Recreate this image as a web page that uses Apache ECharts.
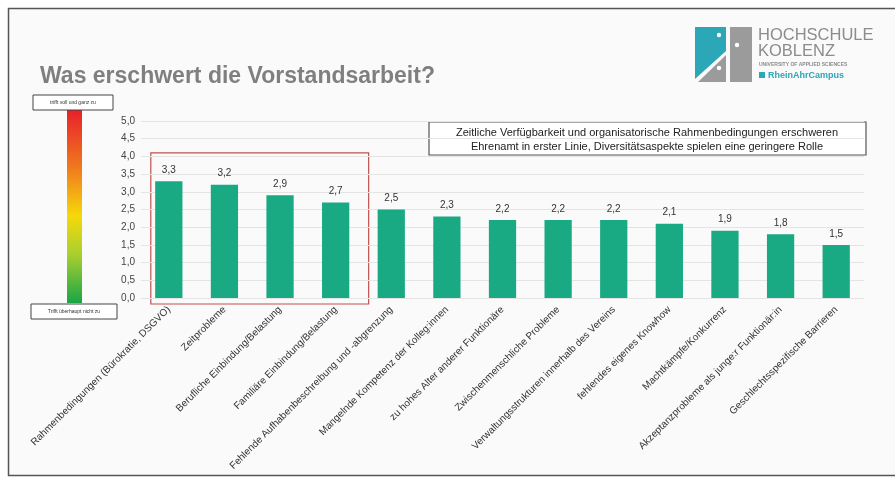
<!DOCTYPE html>
<html><head><meta charset="utf-8">
<script src="https://cdn.jsdelivr.net/npm/echarts@6/dist/echarts.min.js"></script>
<style>html,body{margin:0;padding:0;background:#fff}#c{width:895px;height:478px}</style>
</head><body><div id="c"></div>
<script>
const categories = [
  "Rahmenbedingungen (Bürokratie, DSGVO)",
  "Zeitprobleme",
  "Berufliche Einbindung/Belastung",
  "Familiäre Einbindung/Belastung",
  "Fehlende Aufhabenbeschreibung und -abgrenzung",
  "Mangelnde Kompetenz der Kolleg:innen",
  "zu hohes Alter anderer Funktionäre",
  "Zwischenmenschliche Probleme",
  "Verwaltungsstrukturen innerhalb des Vereins",
  "fehlendes eigenes Knowhow",
  "Machtkämpfe/Konkurrenz",
  "Akzeptanzprobleme als junge:r Funktionär:in",
  "Geschlechtsspezifische Barrieren"
];
const values = [3.3, 3.2, 2.9, 2.7, 2.5, 2.3, 2.2, 2.2, 2.2, 2.1, 1.9, 1.8, 1.5];
const yTicks = [0, 0.5, 1, 1.5, 2, 2.5, 3, 3.5, 4, 4.5, 5];
const titleText = "Was erschwert die Vorstandsarbeit?";
const noteLines = ["Zeitliche Verfügbarkeit und organisatorische Rahmenbedingungen erschweren",
                   "Ehrenamt in erster Linie, Diversitätsaspekte spielen eine geringere Rolle"];
const scaleTop = "trifft voll und ganz zu";
const scaleBottom = "Trifft überhaupt nicht zu";

const FONT = "Liberation Sans, Arial, sans-serif";
const chart = echarts.init(document.getElementById('c'));
const fmt = v => v.toFixed(1).replace('.', ',');

const baseGraphic = [
  {type:'rect', z:-10, shape:{x:8.5,y:8.5,width:920,height:467}, style:{fill:'#fafafa', stroke:'#555', lineWidth:1.5}},
  {type:'text', left:40, top:65, style:{text:titleText, font:'bold 23px '+FONT, fill:'#7f7f7f'}},
  // logo
  {type:'polygon', shape:{points:[[695,27],[726,27],[726,51],[695,79]]}, style:{fill:'#2ba7b8'}},
  {type:'polygon', shape:{points:[[726,55],[726,82],[698,82]]}, style:{fill:'#9b9b9b'}},
  {type:'rect', shape:{x:730,y:27,width:22,height:55}, style:{fill:'#9b9b9b'}},
  {type:'circle', shape:{cx:719,cy:35,r:2.2}, style:{fill:'#fff'}},
  {type:'circle', shape:{cx:719,cy:68,r:2.2}, style:{fill:'#fff'}},
  {type:'circle', shape:{cx:737,cy:45,r:2.2}, style:{fill:'#fff'}},
  {type:'text', left:758, top:27, style:{text:'HOCHSCHULE', font:'16.5px '+FONT, fill:'#8c8c8c'}},
  {type:'text', left:758, top:43, style:{text:'KOBLENZ', font:'16.5px '+FONT, fill:'#8c8c8c'}},
  {type:'text', left:759, top:62, style:{text:'UNIVERSITY OF APPLIED SCIENCES', font:'bold 5px '+FONT, fill:'#8c8c8c'}},
  {type:'rect', shape:{x:759,y:72,width:6,height:6}, style:{fill:'#2ba7b8'}},
  {type:'text', left:768, top:71, style:{text:'RheinAhrCampus', font:'bold 9px '+FONT, fill:'#2ba7b8'}},
  // colour scale
  {type:'rect', shape:{x:67,y:110,width:15,height:193},
   style:{fill:new echarts.graphic.LinearGradient(0,0,0,1,[
     {offset:0,color:'#e8202a'},{offset:0.3,color:'#f07a1e'},{offset:0.55,color:'#f5d90a'},
     {offset:0.75,color:'#a8cf2f'},{offset:1,color:'#1aa545'}])}},
  {type:'rect', shape:{x:33,y:95,width:80,height:15}, style:{fill:'#fff', stroke:'#444', lineWidth:1}},
  {type:'text', x:73, y:102.5, style:{text:scaleTop, font:'5px '+FONT, fill:'#333', align:'center', verticalAlign:'middle'}},
  {type:'rect', shape:{x:31,y:304,width:86,height:15}, style:{fill:'#fff', stroke:'#444', lineWidth:1}},
  {type:'text', x:74, y:311.5, style:{text:scaleBottom, font:'5px '+FONT, fill:'#333', align:'center', verticalAlign:'middle'}},
  // note box
  {type:'rect', shape:{x:429,y:122,width:437,height:33}, style:{fill:'#fff', stroke:'#555', lineWidth:1.2}},
  {type:'text', x:647, y:133, style:{text:noteLines[0], font:'11px '+FONT, fill:'#222', align:'center', verticalAlign:'middle'}},
  {type:'text', x:647, y:147, style:{text:noteLines[1], font:'11px '+FONT, fill:'#222', align:'center', verticalAlign:'middle'}}
];

chart.setOption({
  animation:false,
  backgroundColor:'#fff',
  textStyle:{fontFamily:FONT},
  grid:{left:141, right:31, top:121, bottom:180, containLabel:false},
  xAxis:{type:'category', data:categories,
    axisLine:{show:true, lineStyle:{color:'#e4e4e4'}}, axisTick:{show:false},
    axisLabel:{rotate:45, interval:0, fontSize:10, color:'#333', margin:10}},
  yAxis:{type:'value', min:0, max:5, interval:0.5,
    axisLine:{show:false}, axisTick:{show:false},
    splitLine:{lineStyle:{color:'#e4e4e4'}},
    axisLabel:{formatter:v=>fmt(v), fontSize:10, color:'#444', margin:6}},
  series:[{type:'bar', data:values, barWidth:'49%', itemStyle:{color:'#19a983'},
    label:{show:true, position:'top', formatter:p=>fmt(p.value), fontSize:10, color:'#333', distance:6}}],
  graphic: baseGraphic
});

// red highlight box around first four categories
const p0 = chart.convertToPixel({xAxisIndex:0, yAxisIndex:0}, [0, 4.1]);
const p3 = chart.convertToPixel({xAxisIndex:0, yAxisIndex:0}, [3, 0]);
chart.setOption({graphic: baseGraphic.concat([
  {type:'rect', shape:{x:p0[0]-18, y:p0[1], width:(p3[0]-p0[0])+18+33, height:(p3[1]-p0[1])+6},
   style:{fill:'none', stroke:'#c0504d', lineWidth:1.2}}
])});
</script></body></html>
